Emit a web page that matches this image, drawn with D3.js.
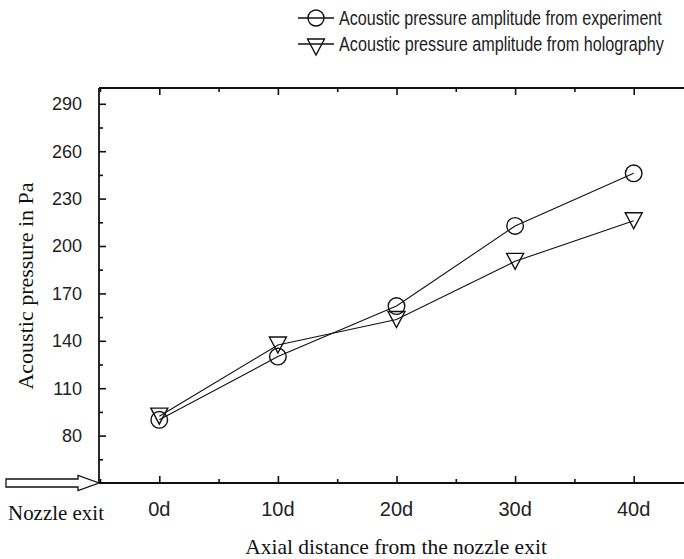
<!DOCTYPE html>
<html>
<head>
<meta charset="utf-8">
<script src="https://cdn.jsdelivr.net/npm/d3@7"></script>
<style>
  body { margin: 0; background: #fff; }
  svg { display: block; }
</style>
</head>
<body>
<div id="chart"></div>
<script>
// chart values
var positions = [0, 10, 20, 30, 40];
var xTickLabels = ["0d", "10d", "20d", "30d", "40d"];
var experiment = [90, 130, 162, 212.7, 246];
var holography = [92.3, 137.3, 153.5, 190.3, 216];
var yTicks = [80, 110, 140, 170, 200, 230, 260, 290];
var seriesNames = ["Acoustic pressure amplitude from experiment",
                   "Acoustic pressure amplitude from holography"];

var width = 684;
var height = 559;

var svg = d3.select("#chart")
  .append("svg")
  .attr("width", width)
  .attr("height", height);

// plot box (right side runs off the window like in the original)
var plotLeft = 99, plotTop = 88, plotBottom = 483, plotRight = 693;

var x = d3.scaleLinear().domain([-5, 45]).range([plotLeft + 1, plotRight]);
var y = d3.scaleLinear().domain([50, 300]).range([plotBottom, plotTop]);

// squeeze a text sideways so it fits a given width (old condensed fonts)
var squeeze = (sel, w, ax, ay) => {
  var natural = sel.node().getComputedTextLength();
  var k = Math.min(1, w / natural);
  sel.attr("transform", `translate(${ax},${ay}) scale(${k},1)`);
};

// bottom axis, ticks pointing inward
var xMinor = d3.range(-5, 46, 5);
svg.append("g")
  .attr("transform", `translate(0,${plotBottom})`)
  .call(d3.axisTop(x).tickValues(xMinor).tickSize(0).tickFormat(""))
  .call(g => g.select(".domain").remove())
  .call(g => g.selectAll(".tick line")
    .attr("y2", d => positions.includes(d) ? -7 : -4)
    .attr("stroke", "#111").attr("stroke-width", 1.6));

// top axis
svg.append("g")
  .attr("transform", `translate(0,${plotTop})`)
  .call(d3.axisBottom(x).tickValues(xMinor).tickSize(0).tickFormat(""))
  .call(g => g.select(".domain").remove())
  .call(g => g.selectAll(".tick line")
    .attr("y2", d => positions.includes(d) ? 7 : 4)
    .attr("stroke", "#111").attr("stroke-width", 1.6));

// left axis
var yMinor = d3.range(65, 300, 15);
svg.append("g")
  .attr("transform", `translate(${plotLeft},0)`)
  .call(d3.axisRight(y).tickValues(yMinor).tickSize(0).tickFormat(""))
  .call(g => g.select(".domain").remove())
  .call(g => g.selectAll(".tick line")
    .attr("x2", d => yTicks.includes(d) ? 7 : 4)
    .attr("stroke", "#111").attr("stroke-width", 1.6));

// frame lines
svg.append("line").attr("x1", plotLeft).attr("x2", width).attr("y1", plotTop).attr("y2", plotTop)
  .attr("stroke", "#111").attr("stroke-width", 1.8);
svg.append("line").attr("x1", plotLeft).attr("x2", width).attr("y1", plotBottom).attr("y2", plotBottom)
  .attr("stroke", "#111").attr("stroke-width", 1.8);
svg.append("line").attr("x1", plotLeft).attr("x2", plotLeft).attr("y1", plotTop).attr("y2", plotBottom)
  .attr("stroke", "#111").attr("stroke-width", 1.8);

// y tick labels
svg.append("g").selectAll("text")
  .data(yTicks)
  .enter()
  .append("text")
  .attr("x", 82)
  .attr("y", d => y(d))
  .attr("dy", "0.36em")
  .attr("text-anchor", "end")
  .style("font-family", "'Liberation Sans', Arial, sans-serif")
  .style("font-size", "18px")
  .attr("fill", "#222")
  .text(d => d);

// x tick labels
svg.append("g").selectAll("text")
  .data(positions)
  .enter()
  .append("text")
  .attr("x", d => x(d))
  .attr("y", 516)
  .attr("text-anchor", "middle")
  .style("font-family", "'Liberation Sans', Arial, sans-serif")
  .style("font-size", "20px")
  .attr("fill", "#222")
  .text((d, i) => xTickLabels[i]);

// axis titles
var xTitle = svg.append("text")
  .attr("text-anchor", "middle")
  .style("font-family", "'Liberation Serif', 'Times New Roman', serif")
  .style("font-size", "22px")
  .attr("fill", "#111")
  .text("Axial distance from the nozzle exit");
squeeze(xTitle, 302, 396, 554);

var yTitle = svg.append("text")
  .attr("text-anchor", "middle")
  .style("font-family", "'Liberation Serif', 'Times New Roman', serif")
  .style("font-size", "22px")
  .attr("fill", "#111")
  .text("Acoustic pressure in Pa");
var yk = Math.min(1, 212 / yTitle.node().getComputedTextLength());
yTitle.attr("transform", `translate(33,286) rotate(-90) scale(${yk},1)`);

var nozzle = svg.append("text")
  .style("font-family", "'Liberation Serif', 'Times New Roman', serif")
  .style("font-size", "21px")
  .attr("fill", "#111")
  .text("Nozzle exit");
squeeze(nozzle, 96, 8, 520);

// hollow arrow pointing at the nozzle exit
svg.append("path")
  .attr("d", "M6,479 L78,479 L78,475.5 L99,483 L78,490.5 L78,487 L6,487 Z")
  .attr("fill", "#fff")
  .attr("stroke", "#111")
  .attr("stroke-width", 1.3);

// series lines
var line = d3.line()
  .x((d, i) => x(positions[i]))
  .y(d => y(d));

svg.append("path")
  .datum(experiment)
  .attr("d", line)
  .attr("fill", "none")
  .attr("stroke", "#111")
  .attr("stroke-width", 1.1);

svg.append("path")
  .datum(holography)
  .attr("d", line)
  .attr("fill", "none")
  .attr("stroke", "#111")
  .attr("stroke-width", 1.1);

// markers
var triPath = "M-8.5,-8 L8.5,-8 L0,8 Z";

svg.append("g").selectAll("circle")
  .data(experiment)
  .enter()
  .append("circle")
  .attr("cx", (d, i) => x(positions[i]))
  .attr("cy", d => y(d))
  .attr("r", 8.3)
  .attr("fill", "none")
  .attr("stroke", "#111")
  .attr("stroke-width", 1.4);

svg.append("g").selectAll("path")
  .data(holography)
  .enter()
  .append("path")
  .attr("transform", (d, i) => `translate(${x(positions[i])},${y(d)})`)
  .attr("d", triPath)
  .attr("fill", "none")
  .attr("stroke", "#111")
  .attr("stroke-width", 1.4);

// legend
var legend = svg.append("g");
seriesNames.forEach((name, i) => {
  var ly = 18 + i * 26;
  legend.append("line")
    .attr("x1", 298).attr("x2", 334).attr("y1", ly).attr("y2", ly)
    .attr("stroke", "#111").attr("stroke-width", 1.4);
  if (i === 0) {
    legend.append("circle")
      .attr("cx", 316).attr("cy", ly).attr("r", 8)
      .attr("fill", "none").attr("stroke", "#111").attr("stroke-width", 1.4);
  } else {
    legend.append("path")
      .attr("transform", `translate(316,${ly + 3})`)
      .attr("d", triPath)
      .attr("fill", "none").attr("stroke", "#111").attr("stroke-width", 1.4);
  }
  var t = legend.append("text")
    .attr("dy", "0.36em")
    .style("font-family", "'Liberation Sans', Arial, sans-serif")
    .style("font-size", "20px")
    .attr("fill", "#222")
    .text(name);
  squeeze(t, i === 0 ? 323 : 325, 339, ly);
});
</script>
</body>
</html>
